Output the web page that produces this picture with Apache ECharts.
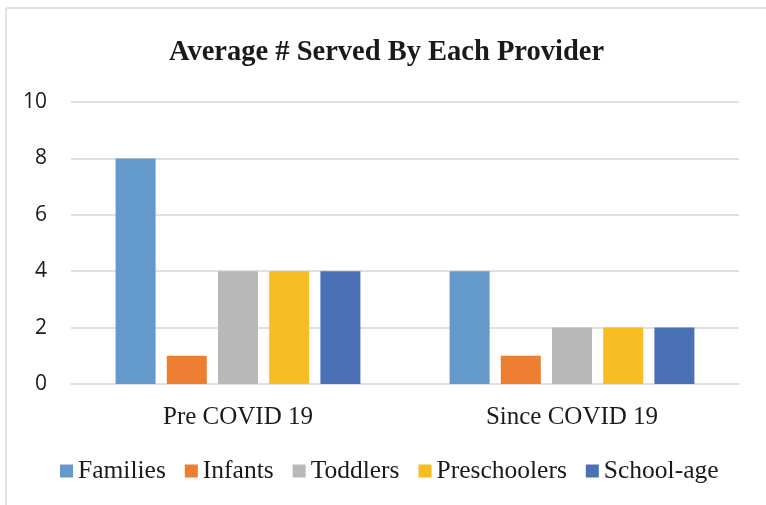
<!DOCTYPE html>
<html>
<head>
<meta charset="utf-8">
<title>Average # Served By Each Provider</title>
<script src="https://cdn.jsdelivr.net/npm/echarts@6/dist/echarts.min.js"></script>
<style>
  html, body { margin: 0; padding: 0; background: #fff; }
  #chart { width: 766px; height: 505px; }
</style>
</head>
<body>
<div id="chart"></div>
<script>
// Periods on the category axis
const periods = ['Pre COVID 19', 'Since COVID 19'];

// Average number served per provider, one array per group
const families     = [8, 4];
const infants      = [1, 1];
const toddlers     = [4, 2];
const preschoolers = [4, 2];
const schoolAge    = [4, 2];

const seriesNames  = ['Families', 'Infants', 'Toddlers', 'Preschoolers', 'School-age'];
const seriesValues = [families, infants, toddlers, preschoolers, schoolAge];
const seriesColors = ['#6399CB', '#ED7D31', '#B8B8B8', '#F8BD22', '#4A70B5'];

// Value axis ticks
const yMin = 0, yMax = 10, yStep = 2;

const serif = '"Liberation Serif", "Times New Roman", serif';
const sans = '"Open Sans", "Liberation Sans", sans-serif';

const chart = echarts.init(document.getElementById('chart'), null, { renderer: 'canvas' });

// Chart frame: only its top and left edges fall inside the page
const frameStyle = { stroke: '#E2E2E2', lineWidth: 2 };

chart.setOption({
  animation: false,
  backgroundColor: '#ffffff',
  graphic: [
    { type: 'line', silent: true, z: -1, shape: { x1: 6, y1: 8, x2: 766, y2: 8 }, style: frameStyle },
    { type: 'line', silent: true, z: -1, shape: { x1: 6, y1: 8, x2: 6, y2: 505 }, style: frameStyle }
  ],
  title: {
    text: 'Average # Served By Each Provider',
    left: 164,
    top: 33,
    textStyle: { fontFamily: serif, fontWeight: 'bold', fontSize: 28.5, color: '#1a1a1a' }
  },
  legend: {
    bottom: 16,
    left: 55,
    icon: 'rect',
    itemWidth: 13,
    itemHeight: 13,
    itemGap: 19,
    textStyle: { fontFamily: serif, fontSize: 25.5, color: '#1a1a1a' },
    data: seriesNames
  },
  grid: { left: 71, right: 27, top: 102, bottom: 121, containLabel: false },
  xAxis: {
    type: 'category',
    data: periods,
    axisLine: { show: true, lineStyle: { color: '#E0E0E0', width: 2 } },
    axisTick: { show: false },
    axisLabel: { fontFamily: serif, fontSize: 25, color: '#1a1a1a', margin: 21 }
  },
  yAxis: {
    type: 'value',
    min: yMin, max: yMax, interval: yStep,
    axisLine: { show: false },
    axisTick: { show: false },
    splitLine: { lineStyle: { color: '#E0E0E0', width: 2 } },
    axisLabel: { fontFamily: sans, fontSize: 21, color: '#1a1a1a', margin: 24 }
  },
  series: seriesNames.map((name, i) => ({
    name: name,
    type: 'bar',
    data: seriesValues[i],
    barWidth: 40,
    barGap: '28%',
    itemStyle: { color: seriesColors[i] }
  }))
});
</script>
</body>
</html>
